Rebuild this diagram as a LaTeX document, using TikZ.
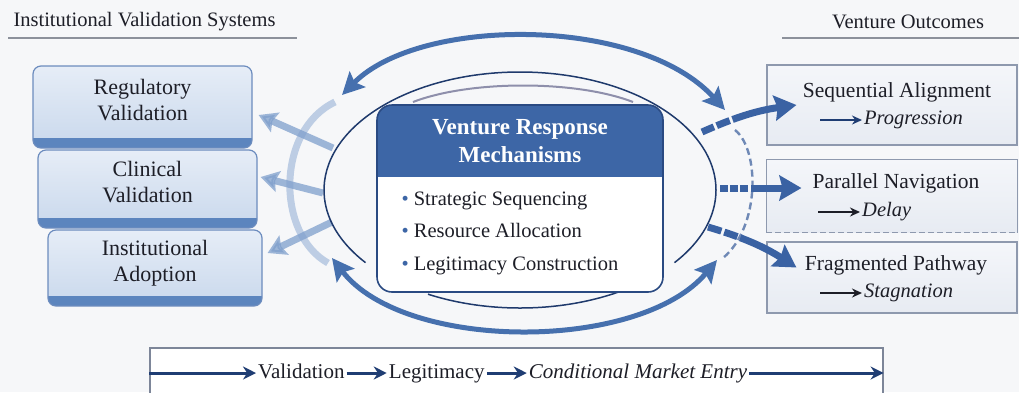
\documentclass[tikz,border=0pt]{standalone}
\usepackage{fontspec}
\setmainfont{Liberation Serif}
\usetikzlibrary{arrows.meta,positioning}

\definecolor{paper}{HTML}{F6F7F9}
\definecolor{ink}{HTML}{1D1E27}
\definecolor{rulegray}{HTML}{8C919B}
\definecolor{boxtop}{HTML}{E6EDF7}
\definecolor{boxbot}{HTML}{C9D8EC}
\definecolor{boxedge}{HTML}{6C8CBE}
\definecolor{band}{HTML}{5C85BE}
\definecolor{paleblue}{HTML}{7F9FCC}
\definecolor{ringnavy}{HTML}{1F3A6C}
\definecolor{halo}{HTML}{8E8FAB}
\definecolor{loopblue}{HTML}{4670AE}
\definecolor{corehead}{HTML}{3D66A6}
\definecolor{coreedge}{HTML}{2A4A82}
\definecolor{outtop}{HTML}{F4F6FA}
\definecolor{outbot}{HTML}{E7EBF2}
\definecolor{outedge}{HTML}{8E99AE}
\definecolor{outblue}{HTML}{3A62A3}
\definecolor{rimdash}{HTML}{6F89B6}
\definecolor{flownavy}{HTML}{1F3D73}
\definecolor{baredge}{HTML}{7D8699}

\begin{document}
\begin{tikzpicture}[x=1pt,y=-1pt,
  head/.style={text=ink,font=\fontsize{20.5}{24}\selectfont},
  rule/.style={rulegray,line width=1.2pt},
  valbox/.style={draw=boxedge,line width=1.2pt,rounded corners=8pt,top color=boxtop,bottom color=boxbot,
    align=center,text=ink,font=\fontsize{22}{26}\selectfont,text depth=14pt,
    path picture={\fill[band,sharp corners] ([yshift=10pt]path picture bounding box.south west) rectangle (path picture bounding box.south east);}},
  fadearc/.style={paleblue!80,line width=7pt,opacity=.6},
  backar/.style={paleblue,line width=7pt,opacity=.75,-{Stealth[length=18pt,width=21pt,inset=3pt]}},
  ring/.style={ringnavy,line width=1.5pt},
  corebox/.style={draw=coreedge,line width=1.6pt,rounded corners=15pt,fill=white,minimum width=286pt,minimum height=187pt,
    path picture={\fill[corehead,sharp corners] (path picture bounding box.north west) rectangle ([yshift=-72pt]path picture bounding box.north east);}},
  coretitle/.style={align=center,text=white,font=\bfseries\fontsize{23}{28}\selectfont},
  corelist/.style={align=left,text=ink,font=\fontsize{20.5}{32.5}\selectfont},
  loopar/.style={loopblue,line width=5pt,{Stealth[length=22pt,width=22pt,inset=4pt]}-{Stealth[length=22pt,width=22pt,inset=4pt]}},
  outbox/.style={draw=outedge,line width=1.1pt,top color=outtop,bottom color=outbot,minimum width=250pt},
  outline/.style={outedge,line width=1.1pt},
  outhead/.style={text=ink,font=\fontsize{21.5}{26}\selectfont},
  outnote/.style={text=ink,inner sep=2pt,font=\itshape\fontsize{20.5}{24}\selectfont},
  notear/.style={line width=1.8pt,-{Stealth[length=10pt,width=9pt]}},
  outar/.style={outblue,line width=7pt,-{Stealth[length=22pt,width=25pt,inset=3pt]}},
  flowbar/.style={draw=baredge,line width=1.2pt,fill=white,minimum width=733pt,minimum height=50pt},
  flowtxt/.style={text=ink,inner sep=2pt,text height=15pt,text depth=5pt,font=\fontsize{21}{24}\selectfont},
  flowar/.style={flownavy,line width=3pt,-{Stealth[length=13pt,width=13pt]}}]

\useasboundingbox[fill=paper] (0,0) rectangle (1019,392);

\node[head,anchor=west] (ivs) at (10,22) {Institutional Validation Systems};
\draw[rule] (8,38) -- (297,38);
\node[head] (vo) at (908,22) {Venture Outcomes};
\draw[rule] (782,38) -- (1019,38);

\node[valbox,minimum width=219pt,minimum height=82pt] (reg) at (142.5,107) {Regulatory\\Validation};
\node[valbox,minimum width=219pt,minimum height=78pt] (clin) at (147.5,189) {Clinical\\Validation};
\node[valbox,minimum width=214pt,minimum height=76pt] (adop) at (155,268) {Institutional\\Adoption};

\draw[fadearc] (335,102) .. controls (276,130) and (276,234) .. (328,263);
\coordinate (fb1) at (333,148);
\coordinate (fb2) at (323,193);
\coordinate (fb3) at (332,222);
\draw[backar] (fb1) -- ([xshift=6pt,yshift=-8pt]reg.east);
\draw[backar] (fb2) -- ([xshift=3pt,yshift=12pt]clin.east);
\draw[backar] (fb3) -- ([xshift=5pt,yshift=15pt]adop.east);

\coordinate (hub) at (520,190);
\draw[ring] ([shift={(142:196 and 118)}]hub) arc[start angle=142,end angle=398,x radius=196,y radius=118];
\draw[ring] ([shift={(60:196 and 118)}]hub) arc[start angle=60,end angle=118,x radius=196,y radius=118];
\draw[halo,line width=2pt] (413,102) .. controls (470,80) and (576,80) .. (633,102);

\node[corebox] (core) at (520,198.5) {};
\node[coretitle] (coreT) at ([yshift=-37pt]core.north) {Venture Response\\Mechanisms};
\node[corelist,anchor=west] (coreL) at (398,233)
  {{\color{corehead}\textbullet}\ Strategic Sequencing\\
   {\color{corehead}\textbullet}\ Resource Allocation\\
   {\color{corehead}\textbullet}\ Legitimacy Construction};

\coordinate (tl) at (342,95);
\coordinate (tr) at (725,110);
\draw[loopar] (tl) .. controls (420,16) and (640,16) .. (tr);
\coordinate (bl) at (332,258);
\coordinate (br) at (717,260);
\draw[loopar] (bl) .. controls (405,352) and (640,352) .. (br);

\node[outbox,minimum height=80pt] (seq) at (892,105) {};
\node[outbox,minimum height=72pt,draw=none] (par) at (892,196) {};
\draw[outline] (par.south west) |- (par.north east) -- (par.south east);
\draw[outline,dash pattern=on 6pt off 3pt] (par.south west) -- (par.south east);
\node[outbox,minimum height=71pt] (frag) at (892,277.5) {};

\node[outhead] (seqT) at ([xshift=5pt,yshift=13pt]seq.center) {Sequential Alignment};
\node[outnote,anchor=west] (seqN) at ([xshift=-30pt,yshift=-15pt]seq.center) {Progression};
\draw[notear,flownavy] ([xshift=-42pt]seqN.west) -- (seqN.west);
\node[outhead] (parT) at ([xshift=4pt,yshift=13pt]par.center) {Parallel Navigation};
\node[outnote,anchor=west] (parN) at ([xshift=-32pt,yshift=-16pt]par.center) {Delay};
\draw[notear,ink] ([xshift=-42pt]parN.west) -- (parN.west);
\node[outhead] (fragT) at ([xshift=4pt,yshift=12.5pt]frag.center) {Fragmented Pathway};
\node[outnote,anchor=west] (fragN) at ([xshift=-30pt,yshift=-15.5pt]frag.center) {Stagnation};
\draw[notear,ink] ([xshift=-42pt]fragN.west) -- (fragN.west);

\draw[rimdash,line width=2.4pt,dash pattern=on 7pt off 4pt] (735,130) .. controls (760,150) and (760,227) .. (723,258);
\coordinate (o1) at (702,132);
\coordinate (o2) at (720,188);
\coordinate (o3) at (708,227);
\draw[outar,dash pattern=on 13pt off 3pt on 14pt off 3pt on 300pt] (o1) to[bend left=8] ([xshift=30pt]seq.west);
\draw[outar,dash pattern=on 8pt off 2pt on 8pt off 2pt on 8pt off 3pt on 300pt] (o2) -- ([xshift=35pt,yshift=8pt]par.west);
\draw[outar,dash pattern=on 14pt off 3pt on 14pt off 3pt on 300pt] (o3) to[bend left=8] ([xshift=30pt,yshift=10pt]frag.west);

\node[flowbar] (bar) at (516.5,373) {};
\node[flowtxt,anchor=west] (val) at (256,373) {Validation};
\node[flowtxt,right=40pt of val] (leg) {Legitimacy};
\node[flowtxt,right=40pt of leg,font=\itshape\fontsize{21}{24}\selectfont] (entry) {Conditional Market Entry};
\draw[flowar] (bar.west) -- (val);
\draw[flowar] (val) -- (leg);
\draw[flowar] (leg) -- (entry);
\draw[flowar] (entry) -- (bar.east);

\end{tikzpicture}
\end{document}
